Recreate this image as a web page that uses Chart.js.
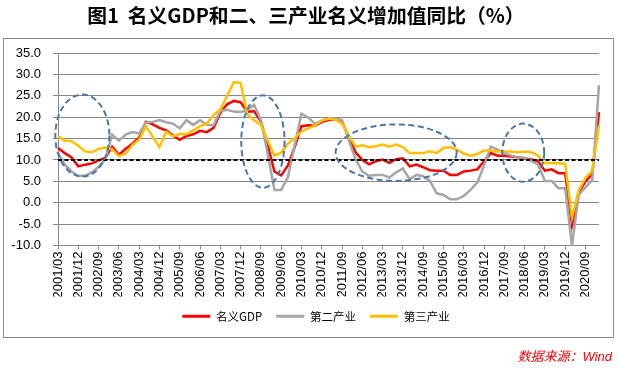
<!DOCTYPE html>
<html><head><meta charset="utf-8">
<script src="https://cdn.jsdelivr.net/npm/chart.js@4/dist/chart.umd.min.js"></script>
<style>html,body{margin:0;padding:0;background:#fff;}#wrap{width:618px;height:368px;}</style>
</head><body><div id="wrap"><canvas id="c" width="618" height="368"></canvas></div>
<script>
const categories = [
"2001/03","2001/06","2001/09","2001/12","2002/03","2002/06","2002/09","2002/12",
"2003/03","2003/06","2003/09","2003/12","2004/03","2004/06","2004/09","2004/12",
"2005/03","2005/06","2005/09","2005/12","2006/03","2006/06","2006/09","2006/12",
"2007/03","2007/06","2007/09","2007/12","2008/03","2008/06","2008/09","2008/12",
"2009/03","2009/06","2009/09","2009/12","2010/03","2010/06","2010/09","2010/12",
"2011/03","2011/06","2011/09","2011/12","2012/03","2012/06","2012/09","2012/12",
"2013/03","2013/06","2013/09","2013/12","2014/03","2014/06","2014/09","2014/12",
"2015/03","2015/06","2015/09","2015/12","2016/03","2016/06","2016/09","2016/12",
"2017/03","2017/06","2017/09","2017/12","2018/03","2018/06","2018/09","2018/12",
"2019/03","2019/06","2019/09","2019/12","2020/03","2020/06","2020/09","2020/12",
"2021/03"];
const tickLabels = ["2001/03","2001/12","2002/09","2003/06","2004/03","2004/12","2005/09","2006/06",
"2007/03","2007/12","2008/09","2009/06","2010/03","2010/12","2011/09","2012/06","2013/03","2013/12",
"2014/09","2015/06","2016/03","2016/12","2017/09","2018/06","2019/03","2019/12","2020/09"];
const gdp = [12.8,11.6,10.6,8.5,8.9,9.2,9.9,10.5, 13.1,11.2,12.6,13.8,15.2,18.9,18.3,17.5,
16.9,15.7,14.7,15.6,16.0,16.8,16.5,17.5, 21.0,23.0,23.8,23.5,21.3,21.4,19.0,13.5,
7.3,6.4,8.7,13.0,17.9,18.1,18.0,18.9, 19.3,19.5,18.9,15.3,11.8,10.0,9.0,9.7,
10.1,9.3,10.2,10.4,8.5,8.9,8.3,7.6, 7.5,7.5,6.5,6.5,7.3,7.5,7.8,9.7,
11.6,11.0,11.0,10.8,10.6,10.4,10.1,9.7, 7.5,7.8,6.9,6.9,-5.3,2.4,5.0,6.7, 21.2];
const secondary = [11.6,8.9,7.3,6.3,6.3,7.1,8.4,10.2, 15.9,14.5,15.9,16.5,16.2,18.7,18.9,19.3,
18.8,18.5,17.4,19.3,18.2,19.3,18.2,18.1, 21.5,21.7,21.3,21.2,21.6,22.9,19.3,11.5,
3.0,3.0,6.0,13.5,20.8,19.9,18.5,19.2, 19.7,19.7,19.3,14.6,10.2,7.3,6.3,6.5,
6.5,5.9,7.1,8.0,5.5,6.5,6.2,5.1, 2.2,1.8,0.8,0.8,1.6,3.0,4.7,8.7,
13.1,12.4,11.6,11.0,10.6,10.5,9.8,8.9, 5.1,5.1,3.4,3.4,-10.0,1.8,3.6,5.3, 27.5];
const tertiary = [15.5,14.5,14.4,13.3,12.0,11.8,12.6,12.9, 12.5,10.9,11.5,13.5,14.8,17.9,15.4,13.0,
16.6,15.5,16.1,16.0,16.9,17.9,18.5,20.5, 21.8,25.0,28.2,28.0,20.6,19.3,18.2,14.6,
11.0,11.7,13.8,15.1,16.6,17.4,18.1,19.2, 19.6,19.4,18.5,15.7,13.1,13.4,13.0,13.2,
13.6,13.1,13.6,13.0,11.6,11.6,11.6,12.0, 11.6,12.8,13.0,12.4,11.5,11.0,11.4,12.2,
12.2,12.0,12.0,12.0,11.8,12.0,11.8,11.0, 9.2,9.2,9.2,9.1,-3.5,2.9,5.8,7.5, 18.1];
const seriesNames = ["名义GDP","第二产业","第三产业"];
const seriesColors = ["#ff0000","#a6a6a6","#ffc000"];
const yMin = -10, yMax = 35, yStep = 5;
const refLine = 10;
// highlight ellipses, in data units: centre index, centre value, radius in categories, radius in value
const ellipseCx = [3.6, 30.3, 50.0, 68.8];
const ellipseCy = [15.7, 14.3, 11.7, 11.7];
const ellipseRx = [4.0, 3.2, 8.95, 3.1];
const ellipseRy = [9.6, 10.8, 6.6, 6.8];
const titleText = "图1  名义GDP和二、三产业名义增加值同比（%）";
const sourceText = "数据来源：Wind";

const GRID = "#888888";
const LATIN = "'Liberation Sans', Arial, 'Noto Sans CJK SC', sans-serif";

const extras = {
  id: 'extras',
  afterLayout(chart) {
    if (chart.legend) { chart.legend.left = 33; }
  },
  afterDatasetsDraw(chart) {
    const {ctx, chartArea: a, scales: {x, y}} = chart;
    ctx.save();
    const yr = y.getPixelForValue(refLine);
    ctx.strokeStyle = '#000'; ctx.lineWidth = 2; ctx.setLineDash([4, 2.5]);
    ctx.beginPath(); ctx.moveTo(a.left, yr); ctx.lineTo(a.right, yr); ctx.stroke();
    ctx.strokeStyle = '#4a77a6'; ctx.lineWidth = 2; ctx.setLineDash([6, 3.5]);
    for (let i = 0; i < ellipseCx.length; i++) {
      const cx = x.getPixelForValue(ellipseCx[i]);
      const cy = y.getPixelForValue(ellipseCy[i]);
      const rx = Math.abs(x.getPixelForValue(ellipseCx[i] + ellipseRx[i]) - cx);
      const ry = Math.abs(y.getPixelForValue(ellipseCy[i] + ellipseRy[i]) - cy);
      ctx.beginPath(); ctx.ellipse(cx, cy, rx, ry, 0, 0, Math.PI * 2); ctx.stroke();
    }
    ctx.restore();
  },
  afterDraw(chart) {
    const {ctx} = chart;
    ctx.save();
    ctx.strokeStyle = '#8c8c8c'; ctx.lineWidth = 1;
    ctx.strokeRect(3.5, 38.5, 610, 299);
    ctx.fillStyle = '#000';
    ctx.font = "bold 19.8px 'Noto Sans CJK SC', sans-serif";
    ctx.textAlign = 'center'; ctx.textBaseline = 'middle';
    ctx.fillText(titleText, 306, 15);
    ctx.fillStyle = '#ff0000';
    ctx.font = "italic 13px 'Liberation Sans', 'Noto Sans CJK SC', sans-serif";
    ctx.textAlign = 'right';
    ctx.fillText(sourceText, 612, 357);
    ctx.restore();
  }
};

const datasets = [gdp, secondary, tertiary].map((d, i) => ({
  label: seriesNames[i], data: d, borderColor: seriesColors[i], backgroundColor: seriesColors[i],
  borderWidth: 2.5, pointRadius: 0, tension: 0, order: 2 - i
}));

new Chart(document.getElementById('c'), {
  type: 'line',
  data: {labels: categories, datasets},
  options: {
    responsive: false, animation: false, devicePixelRatio: 1,
    layout: {padding: {top: 53, right: 19, bottom: 36, left: 0}},
    plugins: {
      tooltip: {enabled: false},
      title: {display: false},
      legend: {
        position: 'bottom',
        labels: {
          boxWidth: 28, boxHeight: 3, padding: 14, color: '#000',
          font: {size: 11.5, family: "'Noto Sans CJK SC', sans-serif"},
          sort: (a, b) => a.datasetIndex - b.datasetIndex,
          generateLabels(chart) {
            const items = Chart.defaults.plugins.legend.labels.generateLabels(chart);
            items.forEach(it => { it.lineWidth = 0; it.fillStyle = seriesColors[it.datasetIndex]; });
            return items;
          }
        }
      }
    },
    scales: {
      x: {
        type: 'category', offset: false,
        grid: {display: true, drawOnChartArea: false, drawTicks: true, tickLength: 4,
          color: c => (c.tick && tickLabels.includes(categories[c.index])) ? GRID : 'rgba(0,0,0,0)'},
        border: {display: true, color: GRID, width: 1},
        ticks: {autoSkip: false, minRotation: 90, maxRotation: 90, padding: 2, color: '#000',
          font: {size: 13, family: LATIN},
          callback: (v, i) => tickLabels.includes(categories[i]) ? categories[i] : ''},
        afterFit: s => { s.height = 51; }
      },
      y: {
        min: yMin, max: yMax,
        grid: {color: GRID, tickLength: 5, drawTicks: true},
        border: {display: true, color: GRID, width: 1},
        ticks: {stepSize: yStep, padding: 12, color: '#000', font: {size: 13, family: LATIN},
          callback: v => Number(v).toFixed(1)},
        afterFit: s => { s.width = 58; }
      }
    }
  },
  plugins: [extras]
});
</script></body></html>
